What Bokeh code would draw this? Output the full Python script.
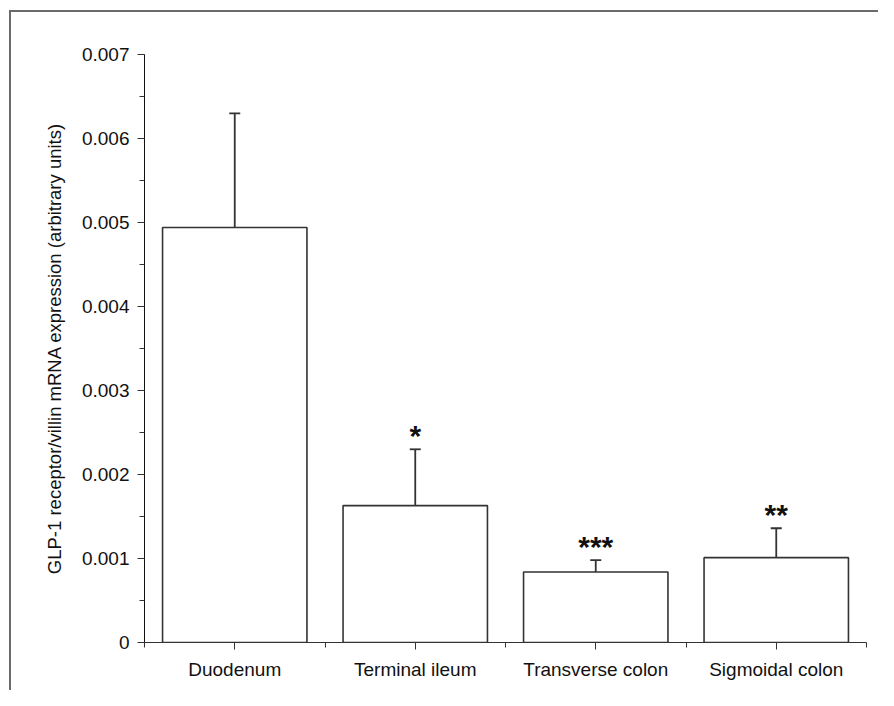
from bokeh.plotting import figure
from bokeh.models import ColumnDataSource, FixedTicker, Whisker, TeeHead
from bokeh.core.properties import value
from bokeh.embed import file_html
from bokeh.resources import INLINE

categories = ["Duodenum", "Terminal ileum", "Transverse colon", "Sigmoidal colon"]
means = [0.00494, 0.00163, 0.00084, 0.00101]
sems = [0.00136, 0.00067, 0.00014, 0.00035]
stars = ["", "*", "***", "**"]
y_ticks = [0, 0.001, 0.002, 0.003, 0.004, 0.005, 0.006, 0.007]
y_tick_labels = ["0", "0.001", "0.002", "0.003", "0.004", "0.005", "0.006", "0.007"]

xs = [i + 0.5 for i in range(len(categories))]
tops = [m + s for m, s in zip(means, sems)]

FONT = "Liberation Sans"

p = figure(width=878, height=690, x_range=(0, 4), y_range=(0, 0.007),
           output_backend="svg", toolbar_location=None,
           min_border_left=144, min_border_right=12, min_border_top=54, min_border_bottom=48)
p.outline_line_color = None
p.grid.visible = False
p.background_fill_color = "white"
p.border_fill_color = None
p.border_fill_alpha = 0
# partial grey frame (top and left) around the whole figure, drawn by CSS on the plot element
p.styles = {
    "background-color": "white",
    "background-image": "linear-gradient(#6b6b6b, #6b6b6b), linear-gradient(#6b6b6b, #6b6b6b)",
    "background-size": "100% 2px, 2px 100%",
    "background-position": "10px 10px, 9px 10px",
    "background-repeat": "no-repeat, no-repeat",
}

src = ColumnDataSource(dict(x=xs, mean=means, top=tops, star=stars))
p.vbar(x="x", top="mean", bottom=0, width=0.8, source=src,
       fill_color="white", line_color="#333333", line_width=1.6)

wh = Whisker(base="x", lower="mean", upper="top", source=src, dimension="height",
             line_color="#333333", line_width=1.8,
             lower_head=None, upper_head=TeeHead(size=11, line_color="#333333", line_width=1.8))
p.add_layout(wh)

p.text(x="x", y="top", text="star", source=src, text_align="center",
       text_baseline="middle", y_offset=-14, text_font=value(FONT),
       text_font_size="30px", text_font_style="bold", text_color="#111111")

# x axis
xa = p.xaxis[0]
xa.ticker = FixedTicker(ticks=xs, minor_ticks=[0, 1, 2, 3, 4])
xa.major_label_overrides = {x: c for x, c in zip(xs, categories)}
xa.major_tick_in = 0
xa.major_tick_out = 7
xa.minor_tick_in = 0
xa.minor_tick_out = 5
xa.axis_line_color = "#333333"
xa.major_tick_line_color = "#333333"
xa.minor_tick_line_color = "#333333"
xa.major_label_text_font = FONT
xa.major_label_text_font_size = "19px"
xa.major_label_text_color = "#111111"
xa.major_label_standoff = 9

ya = p.yaxis[0]
ya.ticker = FixedTicker(ticks=y_ticks, minor_ticks=[i * 0.0005 for i in range(15)])
ya.major_label_overrides = {t: l for t, l in zip(y_ticks, y_tick_labels)}
ya.major_tick_in = 0
ya.major_tick_out = 7
ya.minor_tick_in = 0
ya.minor_tick_out = 5
ya.axis_line_color = "#111111"
ya.major_tick_line_color = "#333333"
ya.minor_tick_line_color = "#333333"
ya.major_label_text_font = FONT
ya.major_label_text_font_size = "19px"
ya.major_label_text_color = "#111111"
ya.major_label_standoff = 8
ya.axis_label = "GLP-1 receptor/villin mRNA expression (arbitrary units)"
ya.axis_label_text_font = FONT
ya.axis_label_text_font_size = "18.5px"
ya.axis_label_text_font_style = "normal"
ya.axis_label_text_color = "#111111"
ya.axis_label_standoff = 14

open("out.html", "w").write(file_html(p, INLINE))
